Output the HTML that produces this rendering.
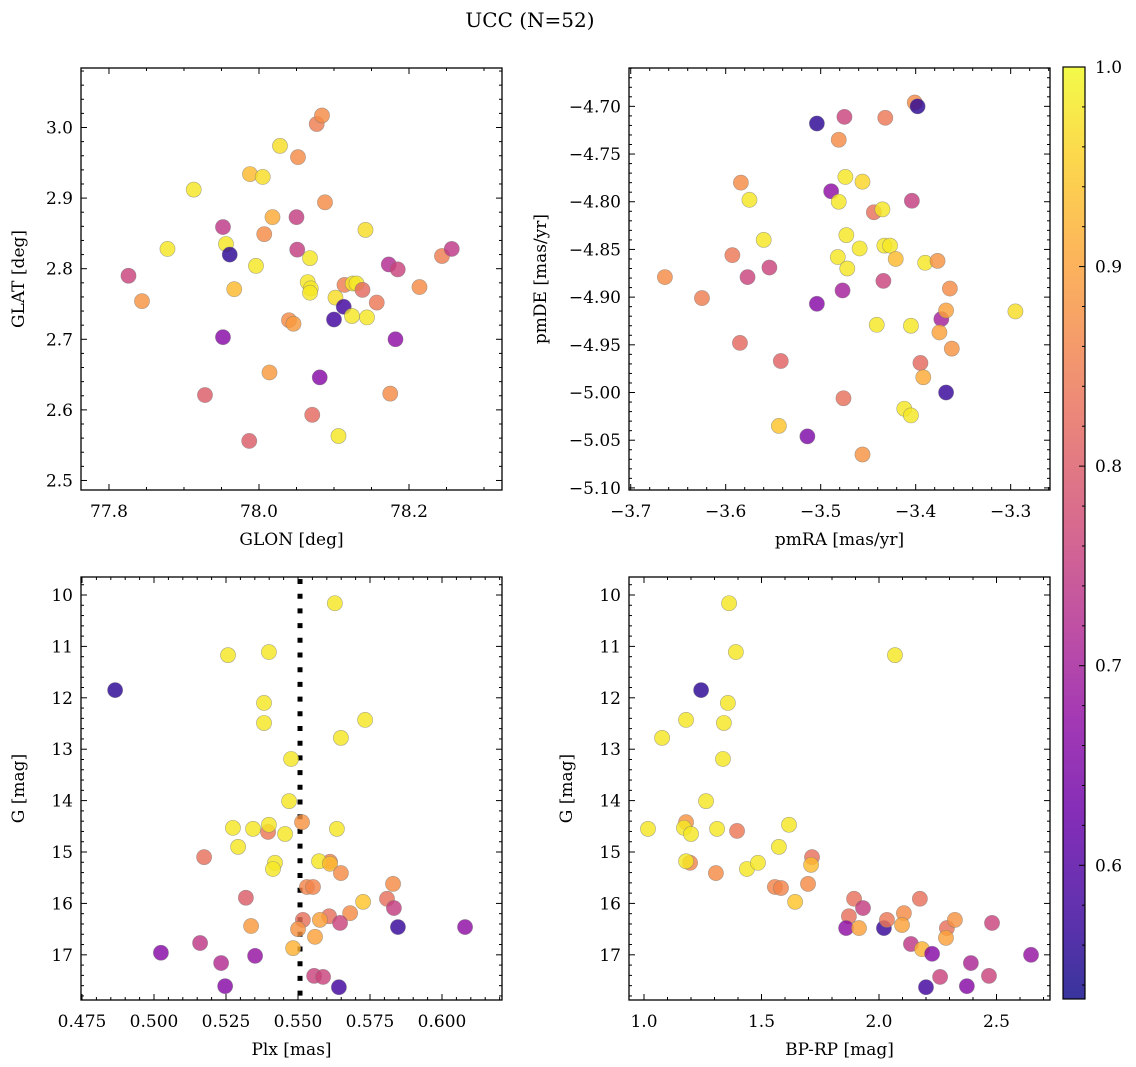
<!DOCTYPE html>
<html><head><meta charset="utf-8">
<style>
html,body{margin:0;padding:0;background:#fff;}
svg{display:block;font-family:"DejaVu Serif","Liberation Serif",serif;}
</style></head>
<body>
<svg id="fig" width="1136" height="1067" viewBox="0 0 1136 1067" xmlns="http://www.w3.org/2000/svg">
<text x="530" y="27" font-size="20" text-anchor="middle">UCC (N=52)</text>
</svg>
<script>
// ---- data (x, y, membership probability) ----
const glonGlat = [
[77.826,2.790,0.76],[77.844,2.754,0.88],[77.878,2.828,0.98],[77.913,2.912,0.98],[77.928,2.621,0.80],
[77.952,2.859,0.74],[77.956,2.835,0.98],[77.961,2.820,0.56],[77.952,2.703,0.66],[77.967,2.771,0.93],
[77.988,2.934,0.93],[78.005,2.930,0.97],[77.996,2.804,0.98],[77.987,2.556,0.80],[78.007,2.849,0.87],
[78.018,2.873,0.91],[78.014,2.653,0.89],[78.028,2.974,0.97],[78.040,2.727,0.87],[78.046,2.722,0.89],
[78.050,2.873,0.75],[78.052,2.958,0.87],[78.051,2.827,0.75],[78.068,2.815,0.98],[78.065,2.781,0.98],
[78.069,2.772,0.98],[78.068,2.766,0.98],[78.071,2.593,0.82],[78.077,3.005,0.85],[78.084,3.017,0.87],
[78.081,2.646,0.66],[78.088,2.894,0.87],[78.100,2.728,0.58],[78.102,2.759,0.97],[78.106,2.563,0.98],
[78.113,2.746,0.58],[78.114,2.777,0.85],[78.124,2.733,0.98],[78.125,2.779,0.98],[78.130,2.779,0.98],
[78.138,2.770,0.82],[78.142,2.855,0.97],[78.144,2.731,0.98],[78.157,2.752,0.84],[78.173,2.806,0.72],
[78.175,2.623,0.87],[78.182,2.700,0.67],[78.185,2.799,0.76],[78.214,2.774,0.87],[78.244,2.818,0.85],
[78.257,2.828,0.74]];
const pmData = [
[-3.664,-4.879,0.87],[-3.625,-4.901,0.85],[-3.584,-4.780,0.87],[-3.575,-4.798,0.98],[-3.593,-4.856,0.84],
[-3.585,-4.948,0.82],[-3.560,-4.840,0.98],[-3.577,-4.879,0.76],[-3.554,-4.869,0.76],[-3.542,-4.967,0.81],
[-3.544,-5.035,0.94],[-3.514,-5.046,0.65],[-3.504,-4.718,0.56],[-3.504,-4.907,0.66],[-3.489,-4.789,0.67],
[-3.481,-4.800,0.98],[-3.481,-4.735,0.87],[-3.482,-4.858,0.98],[-3.477,-4.893,0.70],[-3.476,-5.006,0.83],
[-3.475,-4.711,0.76],[-3.474,-4.774,0.98],[-3.473,-4.835,0.98],[-3.472,-4.870,0.98],[-3.459,-4.849,0.98],
[-3.456,-4.779,0.96],[-3.456,-5.065,0.88],[-3.444,-4.811,0.83],[-3.441,-4.929,0.98],[-3.435,-4.808,0.98],
[-3.434,-4.883,0.76],[-3.432,-4.712,0.84],[-3.433,-4.846,0.98],[-3.427,-4.846,0.98],[-3.421,-4.860,0.93],
[-3.412,-5.017,0.98],[-3.405,-5.024,0.98],[-3.405,-4.930,0.98],[-3.404,-4.799,0.75],[-3.401,-4.696,0.87],
[-3.398,-4.700,0.56],[-3.395,-4.969,0.82],[-3.392,-4.984,0.91],[-3.390,-4.864,0.98],[-3.377,-4.862,0.88],
[-3.373,-4.923,0.70],[-3.375,-4.937,0.90],[-3.368,-4.914,0.90],[-3.368,-5.000,0.57],[-3.364,-4.891,0.87],
[-3.362,-4.954,0.88],[-3.295,-4.915,0.97]];
const plxG = [
[0.4865,11.85,0.56],[0.5257,11.17,0.98],[0.5399,11.11,0.98],[0.5382,12.10,0.98],[0.5382,12.49,0.98],
[0.5476,13.19,0.98],[0.5469,14.01,0.98],[0.5514,14.42,0.88],[0.5274,14.53,0.98],[0.5344,14.55,0.98],
[0.5396,14.61,0.84],[0.5399,14.47,0.98],[0.5455,14.65,0.98],[0.5292,14.90,0.98],[0.5174,15.10,0.83],
[0.5420,15.21,0.98],[0.5413,15.33,0.98],[0.5319,15.89,0.80],[0.5531,15.68,0.86],[0.5552,15.68,0.86],
[0.5517,16.32,0.83],[0.5337,16.44,0.89],[0.5500,16.50,0.88],[0.5559,16.65,0.90],[0.5483,16.87,0.92],
[0.5024,16.96,0.66],[0.5160,16.77,0.74],[0.5233,17.16,0.72],[0.5351,17.02,0.68],[0.5247,17.61,0.66],
[0.5556,17.41,0.76],[0.5628,10.16,0.98],[0.5733,12.43,0.98],[0.5649,12.78,0.98],[0.5635,14.55,0.98],
[0.5611,15.19,0.86],[0.5573,15.18,0.98],[0.5611,15.23,0.93],[0.5649,15.41,0.87],[0.5830,15.62,0.87],
[0.5726,15.97,0.94],[0.5809,15.91,0.83],[0.5833,16.09,0.75],[0.5608,16.25,0.83],[0.5681,16.19,0.87],
[0.5576,16.32,0.90],[0.5646,16.38,0.76],[0.5847,16.46,0.57],[0.6080,16.46,0.67],[0.5587,17.43,0.76],
[0.5642,17.63,0.58]];
const cmdData = [
[1.362,10.16,0.98],[1.391,11.11,0.98],[2.068,11.17,0.98],[1.243,11.85,0.56],[1.357,12.10,0.98],
[1.179,12.43,0.98],[1.340,12.49,0.98],[1.077,12.78,0.98],[1.336,13.19,0.98],[1.264,14.01,0.98],
[1.179,14.42,0.88],[1.170,14.53,0.98],[1.200,14.65,0.98],[1.017,14.55,0.98],[1.311,14.55,0.98],
[1.396,14.59,0.84],[1.617,14.47,0.98],[1.574,14.90,0.98],[1.715,15.10,0.83],[1.711,15.25,0.93],
[1.196,15.21,0.86],[1.179,15.18,0.98],[1.306,15.41,0.87],[1.438,15.33,0.98],[1.485,15.21,0.98],
[1.557,15.68,0.86],[1.583,15.70,0.86],[1.698,15.62,0.87],[1.643,15.97,0.94],[1.894,15.91,0.83],
[1.932,16.09,0.75],[1.872,16.25,0.83],[1.860,16.48,0.67],[1.915,16.48,0.90],[2.021,16.48,0.57],
[2.034,16.32,0.84],[2.106,16.19,0.87],[2.098,16.42,0.90],[2.174,15.91,0.83],[2.136,16.79,0.74],
[2.183,16.89,0.92],[2.226,16.98,0.66],[2.289,16.48,0.83],[2.323,16.32,0.88],[2.285,16.67,0.90],
[2.481,16.38,0.76],[2.391,17.16,0.71],[2.260,17.43,0.76],[2.200,17.63,0.58],[2.374,17.61,0.66],
[2.468,17.41,0.76],[2.647,17.00,0.68]];
// tick labels
const p1XTicks = [77.8, 78.0, 78.2];
const p1YTicks = [2.5, 2.6, 2.7, 2.8, 2.9, 3.0];
const p2XTicks = [-3.7, -3.6, -3.5, -3.4, -3.3];
const p2YTicks = [-4.70, -4.75, -4.80, -4.85, -4.90, -4.95, -5.00, -5.05, -5.10];
const p3XTicks = [0.475, 0.500, 0.525, 0.550, 0.575, 0.600];
const magTicks = [10, 11, 12, 13, 14, 15, 16, 17];
const p4XTicks = [1.0, 1.5, 2.0, 2.5];
const cbarTicks = [0.6, 0.7, 0.8, 0.9, 1.0];
const plxMedian = [0.5507];
const cbarRange = [0.533, 1.0];

const NS = "http://www.w3.org/2000/svg";
const svg = document.getElementById('fig');
function el(tag, attrs, parent) {
  const e = document.createElementNS(NS, tag);
  for (const k in attrs) e.setAttribute(k, attrs[k]);
  (parent || svg).appendChild(e);
  return e;
}
const plasma = ["#0d0887","#41049d","#6a00a8","#8f0da4","#b12a90","#cc4778","#e16462","#f2844b","#fca636","#fcce25","#f0f921"];
function hex(c){return [parseInt(c.slice(1,3),16),parseInt(c.slice(3,5),16),parseInt(c.slice(5,7),16)];}
function cmap(v) {
  let t = (v - cbarRange[0]) / (cbarRange[1] - cbarRange[0]);
  t = Math.max(0, Math.min(1, t));
  const f = t * 10, i = Math.min(9, Math.floor(f)), r = f - i;
  const a = hex(plasma[i]), b = hex(plasma[i + 1]);
  return "rgb(" + a.map((x, k) => Math.round(x + (b[k] - x) * r)).join(",") + ")";
}
function fmtMinus(s){return s.replace("-", "\u2212");}
const FS = 17;

function panel(opt) {
  const g = el('g', {});
  
  
  const L = opt.box[0], T = opt.box[1], R = opt.box[2], B = opt.box[3];
  const sx = v => L + (v - opt.xd[0]) / (opt.xd[1] - opt.xd[0]) * (R - L);
  const sy = opt.yInv ? (v => T + (v - opt.yd[0]) / (opt.yd[1] - opt.yd[0]) * (B - T))
                      : (v => B - (v - opt.yd[0]) / (opt.yd[1] - opt.yd[0]) * (B - T));
  if (opt.vline) {
    const ln = el('line', {x1: sx(opt.vline), x2: sx(opt.vline), y1: T + 2, y2: B, stroke: '#000', 'stroke-width': 5, 'stroke-dasharray': '5 9.7'}, g);
    
    
  }
  opt.data.forEach(d => {
    const c = el('circle', {cx: sx(d[0]), cy: sy(d[1]), r: 7.6, fill: cmap(d[2]), 'fill-opacity': 0.82, stroke: '#777', 'stroke-opacity': 0.6, 'stroke-width': 0.6}, g);
    
    
  });
  const fr = el('rect', {x: L, y: T, width: R - L, height: B - T, fill: 'none', stroke: '#000', 'stroke-width': 1.3}, g);
  
  
  const lo = Math.min(opt.xd[0], opt.xd[1]), hi = Math.max(opt.xd[0], opt.xd[1]);
  for (let v = Math.ceil(lo / opt.xmin - 1e-6) * opt.xmin; v <= hi + 1e-9; v += opt.xmin) {
    const x = sx(v);
    const major = opt.xt.some(t => Math.abs(t - v) < opt.xmin / 10);
    const len = major ? 6 : 3;
    el('line', {x1: x, x2: x, y1: B, y2: B - len, stroke: '#000', 'stroke-width': 1}, g);
    el('line', {x1: x, x2: x, y1: T, y2: T + len, stroke: '#000', 'stroke-width': 1}, g);
  }
  const ylo = Math.min(opt.yd[0], opt.yd[1]), yhi = Math.max(opt.yd[0], opt.yd[1]);
  for (let v = Math.ceil(ylo / opt.ymin - 1e-6) * opt.ymin; v <= yhi + 1e-9; v += opt.ymin) {
    const y = sy(v);
    const major = opt.yt.some(t => Math.abs(t - v) < opt.ymin / 10);
    const len = major ? 6 : 3;
    el('line', {x1: L, x2: L + len, y1: y, y2: y, stroke: '#000', 'stroke-width': 1}, g);
    el('line', {x1: R, x2: R - len, y1: y, y2: y, stroke: '#000', 'stroke-width': 1}, g);
  }
  opt.xt.forEach(t => {
    const tx = el('text', {x: sx(t), y: B + 27, 'font-size': FS, 'text-anchor': 'middle'}, g);
    
    
    tx.textContent = fmtMinus(t.toFixed(opt.xf));
  });
  opt.yt.forEach(t => {
    const tx = el('text', {x: L - 8, y: sy(t) + 6, 'font-size': FS, 'text-anchor': 'end'}, g);
    
    
    tx.textContent = fmtMinus(t.toFixed(opt.yf));
  });
  const xl = el('text', {x: (L + R) / 2, y: B + 55, 'font-size': FS, 'text-anchor': 'middle'}, g);
  
  
  xl.textContent = opt.xlabel;
  const ylx = opt.ylx, yly = (T + B) / 2;
  const yl = el('text', {x: ylx, y: yly, 'font-size': FS, 'text-anchor': 'middle', transform: 'rotate(-90 ' + ylx + ' ' + yly + ')'}, g);
  
  
  yl.textContent = opt.ylabel;
}

panel({name: 'glon-glat-panel', box: [81, 68, 502, 490], xd: [77.7627, 78.324], yd: [2.4865, 3.0843],
  data: glonGlat, xt: p1XTicks, yt: p1YTicks, xmin: 0.05, ymin: 0.02, xf: 1, yf: 1,
  xlabel: 'GLON [deg]', ylabel: 'GLAT [deg]', ylx: 24});
panel({name: 'proper-motion-panel', box: [629, 68, 1050, 490], xd: [-3.7018, -3.2586], yd: [-5.1022, -4.6598],
  data: pmData, xt: p2XTicks, yt: p2YTicks, xmin: 0.02, ymin: 0.01, xf: 1, yf: 2,
  xlabel: 'pmRA [mas/yr]', ylabel: 'pmDE [mas/yr]', ylx: 546});
panel({name: 'plx-mag-panel', box: [81, 577, 502, 1000], xd: [0.47465, 0.62083], yd: [9.650, 17.879], yInv: true,
  data: plxG, xt: p3XTicks, yt: magTicks, xmin: 0.005, ymin: 0.2, xf: 3, yf: 0,
  xlabel: 'Plx [mas]', ylabel: 'G [mag]', ylx: 24, vline: plxMedian[0]});
panel({name: 'cmd-panel', box: [629, 577, 1050, 1000], xd: [0.9362, 2.7277], yd: [9.650, 17.879], yInv: true,
  data: cmdData, xt: p4XTicks, yt: magTicks, xmin: 0.1, ymin: 0.2, xf: 1, yf: 0,
  xlabel: 'BP-RP [mag]', ylabel: 'G [mag]', ylx: 572});

(function () {
  const L = 1063, R = 1085, T = 67, B = 999;
  const g = el('g', {});
  
  
  const defs = el('defs', {}, g);
  const lg = el('linearGradient', {id: 'cbg', x1: 0, y1: 1, x2: 0, y2: 0}, defs);
  for (let i = 0; i <= 20; i++) {
    const v = cbarRange[0] + (cbarRange[1] - cbarRange[0]) * i / 20;
    el('stop', {offset: (i / 20), 'stop-color': cmap(v), 'stop-opacity': 0.82}, lg);
  }
  const r = el('rect', {x: L, y: T, width: R - L, height: B - T, fill: 'url(#cbg)', stroke: '#000', 'stroke-width': 1.2}, g);
  
  
  const sy = v => B - (v - cbarRange[0]) / (cbarRange[1] - cbarRange[0]) * (B - T);
  for (let v = 0.54; v <= 1.0001; v += 0.02) {
    const major = cbarTicks.some(t => Math.abs(t - v) < 0.002);
    el('line', {x1: R, x2: R - (major ? 6 : 3), y1: sy(v), y2: sy(v), stroke: '#000', 'stroke-width': 1}, g);
  }
  cbarTicks.forEach(t => {
    const tx = el('text', {x: R + 10, y: sy(t) + 6, 'font-size': FS}, g);
    
    
    tx.textContent = t.toFixed(1);
  });
})();
</script>
</body></html>
